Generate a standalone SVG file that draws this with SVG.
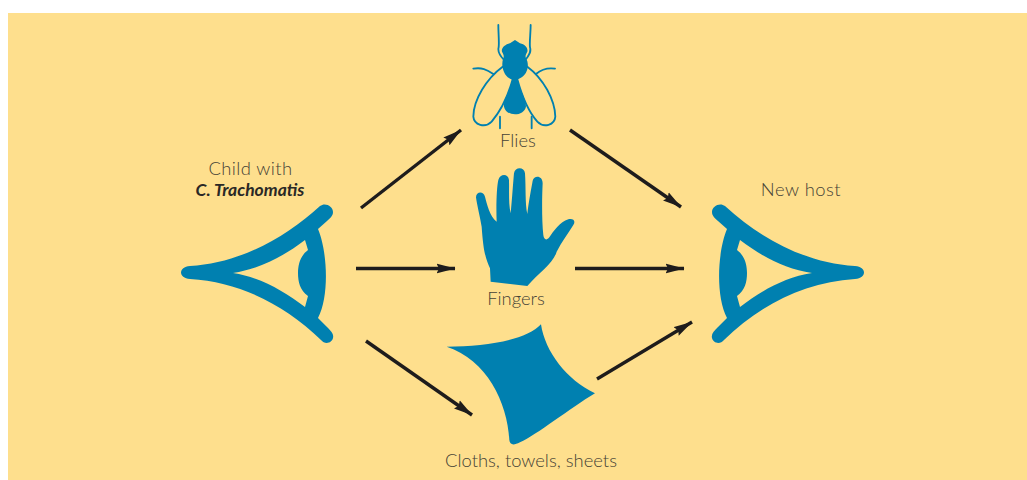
<svg xmlns="http://www.w3.org/2000/svg" width="1027" height="480" viewBox="0 0 1027 480">
<style>
.b{fill:#0080b0}
.t{font-family:Lato,"Open Sans",sans-serif;font-size:18.400px;font-weight:300;fill:#454236;text-anchor:middle}
.a{stroke:#1e1c1c;stroke-width:3.4;fill:none;marker-end:url(#h)}
.f{fill:none;stroke:#0080b0;stroke-width:5.500;stroke-linecap:round;stroke-linejoin:round}
</style>
<defs>
<marker id="h" viewBox="0 0 19 11" refX="18.5" refY="5.5" markerWidth="19" markerHeight="11" markerUnits="userSpaceOnUse" orient="auto"><path d="M0,0.5 L19,5.5 L0,10.5 L2.5,5.5Z" fill="#1e1c1c"/></marker>
<path id="eye" fill-rule="evenodd" d="M190,266 C240,263 285,238 320,206 C325,202 333,206 333,212 C333,216 330,218 327,221 L318,229 C327,250 330,295 318,318 L327,327 C331,331 334,334 333,338 C332,343 325,345 321,340 C285,305 240,282 190,279 C178,278 178,267 190,266 Z M233,273 C260,269 284,256 305,240 L308,250 C300,256 298,265 298,273 C298,282 300,290 308,296 L305,307 C284,291 260,277 233,273 Z"/>
</defs>
<rect x="8" y="13" width="1019" height="467" fill="#fedf8d"/>
<g id="connectors">
<path class="a" d="M361,208 L461,130"/>
<path class="a" d="M570,130 L681,207"/>
<path class="a" d="M356,268.500 L455,268.500"/>
<path class="a" d="M575,268.500 L684,268.500"/>
<path class="a" d="M366,341 L472,415"/>
<path class="a" d="M597,379 L692,322"/>
</g>
<g id="child">
<use href="#eye" class="b"/>
<text class="t" x="250.500" y="175" letter-spacing=".4">Child with</text>
<text x="250" y="196" font-family="Lato,'Open Sans',sans-serif" font-size="17.500" font-weight="700" font-style="italic" fill="#2a2826" text-anchor="middle">C. Trachomatis</text>
</g>
<g id="host">
<use href="#eye" class="b" transform="matrix(-1 0 0 1 1045 0)"/>
<text class="t" x="801" y="196" letter-spacing=".5">New host</text>
</g>
<g id="flies">
<g transform="translate(440 10) scale(.3333)">
<path class="f" d="M175,45 C175,70 178,95 176,112 C172,125 178,135 192,150M272,45 C272,70 268,95 270,112 C274,125 268,135 256,150M100,176 C125,172 140,178 160,192M345,176 C320,172 305,178 288,192M180,320V355M275,320V355"/>
<path class="f" d="M188,170 C140,205 100,270 100,320 C102,345 135,355 155,335 C180,305 205,255 218,208"/>
<path class="f" d="M262,170 C310,205 345,270 346,320 C344,345 312,355 292,335 C265,305 245,255 232,208"/>
<path class="b" d="M225,90 L240,100 C255,103 265,115 262,125 C258,133 255,137 258,145 C270,165 262,195 240,205 C228,212 218,212 208,205 C190,195 182,165 190,145 C193,137 190,133 186,125 C183,115 195,103 210,100Z"/>
<path class="b" d="M218,205 C212,240 190,265 192,290 C195,305 210,313 225,313 C240,313 255,305 258,290 C258,265 238,240 232,205Z"/>
</g>
<text class="t" x="518" y="147">Flies</text>
</g>
<g id="fingers">
<path class="b" transform="translate(440 160) scale(.3333)" d="M152,365 L150,325 C135,290 130,270 125,200 C120,170 110,130 108,112 C108,95 130,92 135,110 C140,130 150,170 170,185 C168,140 170,80 175,60 C180,40 205,40 207,60 C208,90 205,130 212,160 C216,120 220,60 222,40 C225,20 253,20 255,40 C258,80 255,130 262,162 C265,130 275,80 278,62 C282,45 308,45 308,70 C306,110 305,180 310,225 C312,240 320,242 328,232 C340,215 360,185 385,178 C400,175 408,182 400,195 C385,220 365,245 350,275 C340,310 300,335 262,378 Z"/>
<text class="t" x="516" y="305">Fingers</text>
</g>
<g id="cloths">
<path class="b" transform="translate(430 315) scale(.3333)" d="M50,95 C170,95 290,75 333,28 C345,110 410,195 495,235 C420,280 320,360 270,382 C250,392 240,390 238,375 C232,260 170,135 50,95 Z"/>
<text class="t" x="531" y="467">Cloths, towels, sheets</text>
</g>
</svg>
